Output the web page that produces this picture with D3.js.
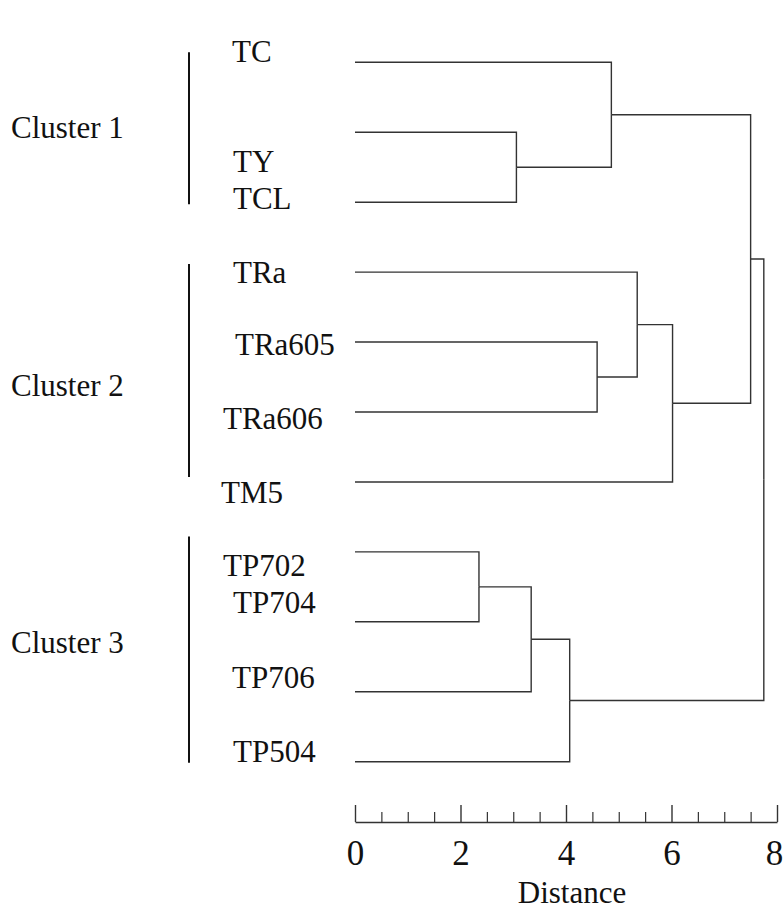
<!DOCTYPE html>
<html>
<head>
<meta charset="utf-8">
<script src="https://cdn.jsdelivr.net/npm/d3@7"></script>
<style>
  body { margin: 0; background: #fff; }
</style>
</head>
<body>
<div id="chart"></div>
<script>
// leaf order, top to bottom
var leaves = ["TC", "TY", "TCL", "TRa", "TRa605", "TRa606", "TM5", "TP702", "TP704", "TP706", "TP504"];

// merges: [child a, child b, distance]; "mN" refers to the N-th merge
var merges = [
  ["TY", "TCL", 3.06],
  ["TC", "m0", 4.86],
  ["TRa605", "TRa606", 4.59],
  ["TRa", "m2", 5.35],
  ["m3", "TM5", 6.02],
  ["m1", "m4", 7.50],
  ["TP702", "TP704", 2.35],
  ["m6", "TP706", 3.34],
  ["m7", "TP504", 4.07],
  ["m5", "m8", 7.75]
];

var clusterNames = ["Cluster 1", "Cluster 2", "Cluster 3"];
var clusterFirst = ["TC", "TRa", "TP702"];
var clusterLast = ["TCL", "TM5", "TP504"];

var majorTicks = [0, 2, 4, 6, 8];
var minorTicks = [0.5, 1, 1.5, 2.5, 3, 3.5, 4.5, 5, 5.5, 6.5, 7, 7.5];
var axisTitle = "Distance";

var width = 783, height = 912;
var lineColor = "#333";
var serif = "'Liberation Serif', 'Times New Roman', Times, 'DejaVu Serif', serif";

var svg = d3.select("#chart")
  .append("svg")
  .attr("width", width)
  .attr("height", height);

var x = d3.scaleLinear().domain([0, 8]).range([355, 777]);
var y = d3.scalePoint().domain(leaves).range([62.3, 761.7]);

// build the tree from the merge list
var nodes = {};
leaves.forEach(function(name) { nodes[name] = { name: name, dist: 0 }; });
merges.forEach(function(m, i) {
  nodes["m" + i] = { name: "m" + i, dist: m[2], children: [nodes[m[0]], nodes[m[1]]] };
});
var root = d3.hierarchy(nodes["m" + (merges.length - 1)]);

// leaves sit on the point scale, each merge sits halfway between its children
root.eachAfter(function(d) {
  d.px = x(d.data.dist);
  if (d.children) d.py = d3.mean(d.children, function(c) { return c.py; });
  else d.py = y(d.data.name);
});

var links = [];
root.each(function(d) {
  if (d.children) d.children.forEach(function(c) { links.push({ parent: d, child: c }); });
});

svg.append("g")
  .selectAll("path")
  .data(links)
  .enter().append("path")
  .attr("d", function(l) {
    return "M" + l.child.px + "," + l.child.py + "H" + l.parent.px + "V" + l.parent.py;
  })
  .attr("fill", "none")
  .attr("stroke", lineColor)
  .attr("stroke-width", 1.4);

// leaf labels are set a little off their lines in the original
var labelNudge = {
  TC: [232, 0], TY: [233, 40], TCL: [233, 7], TRa: [233, 11], TRa605: [235, 13],
  TRa606: [223, 17], TM5: [221, 21], TP702: [223, 24], TP704: [233, -9],
  TP706: [232, -4], TP504: [233, 0]
};

svg.append("g")
  .selectAll("text")
  .data(leaves)
  .enter().append("text")
  .attr("x", function(d) { return labelNudge[d][0]; })
  .attr("y", function(d) { return y(d) + labelNudge[d][1]; })
  .style("font-family", serif)
  .style("font-size", "31px")
  .attr("fill", "#111")
  .text(function(d) { return d; });

// cluster brackets
var barPad = [[-10, 2], [-8, -5], [-15.5, 1]];
var clusterLabelY = [138, 396, 653];

svg.append("g")
  .selectAll("line")
  .data(clusterNames)
  .enter().append("line")
  .attr("x1", 189).attr("x2", 189)
  .attr("y1", function(d, i) { return y(clusterFirst[i]) + barPad[i][0]; })
  .attr("y2", function(d, i) { return y(clusterLast[i]) + barPad[i][1]; })
  .attr("stroke", "#111")
  .attr("stroke-width", 2);

svg.append("g")
  .selectAll("text")
  .data(clusterNames)
  .enter().append("text")
  .attr("x", 11)
  .attr("y", function(d, i) { return clusterLabelY[i]; })
  .style("font-family", serif)
  .style("font-size", "31px")
  .attr("fill", "#111")
  .text(function(d) { return d; });

// distance axis
var axisY = 822;

var major = svg.append("g")
  .attr("transform", "translate(0," + axisY + ")")
  .call(d3.axisBottom(x)
    .tickValues(majorTicks)
    .tickSizeInner(-17)
    .tickSizeOuter(0)
    .tickPadding(18)
    .tickFormat(d3.format("d")));

major.select(".domain").attr("stroke", lineColor).attr("stroke-width", 1.4);
major.selectAll(".tick line").attr("stroke", lineColor).attr("stroke-width", 1.4);
major.selectAll(".tick text")
  .attr("fill", "#111")
  .attr("dx", function(d) { return d === 8 ? -3 : 0; })
  .style("font-family", serif)
  .style("font-size", "35px");

var minor = svg.append("g")
  .attr("transform", "translate(0," + axisY + ")")
  .call(d3.axisBottom(x)
    .tickValues(minorTicks)
    .tickSizeInner(-10)
    .tickSizeOuter(0)
    .tickFormat(""));

minor.select(".domain").remove();
minor.selectAll(".tick line").attr("stroke", lineColor).attr("stroke-width", 1.2);

svg.append("text")
  .attr("x", 572)
  .attr("y", 903)
  .attr("text-anchor", "middle")
  .style("font-family", serif)
  .style("font-size", "31px")
  .attr("fill", "#111")
  .text(axisTitle);
</script>
</body>
</html>
